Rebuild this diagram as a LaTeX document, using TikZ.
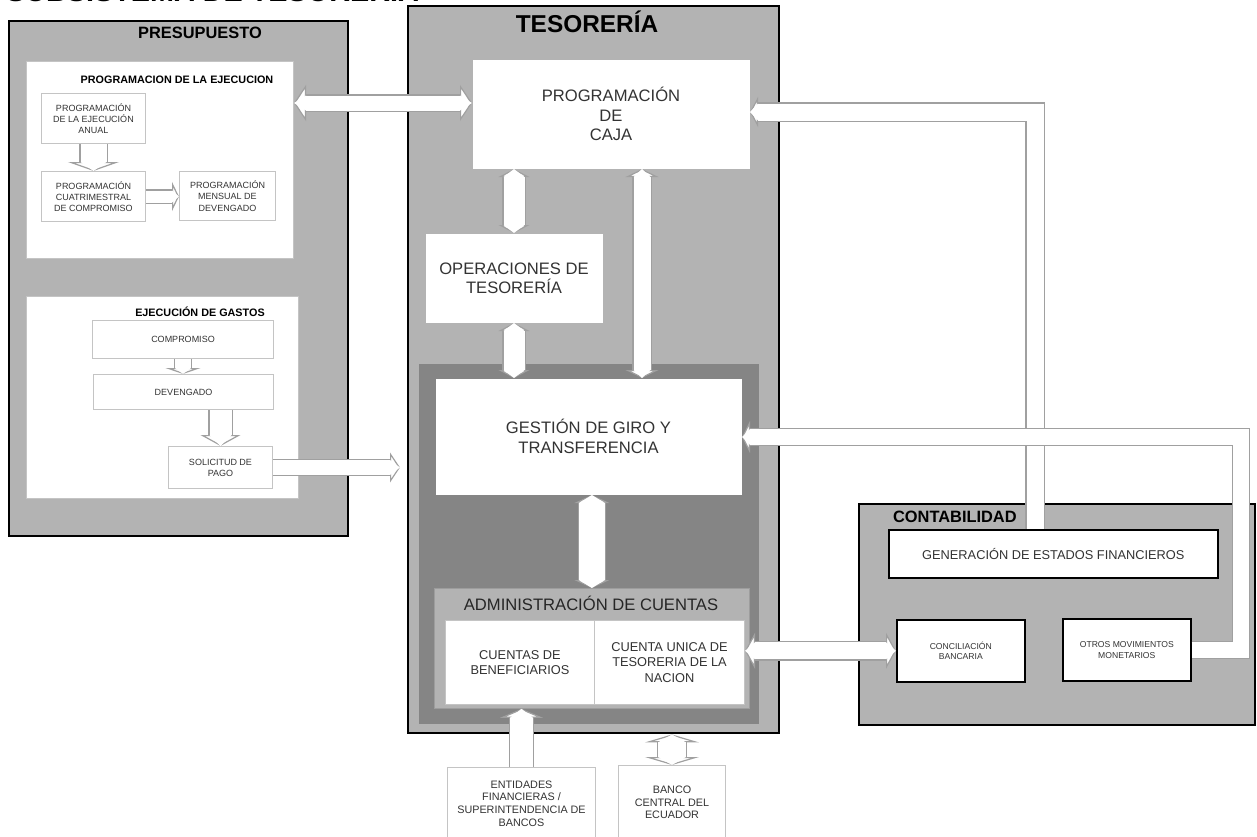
\documentclass[tikz,border=0pt]{standalone}
\usepackage{fontspec}
\setmainfont{Liberation Sans}
\usetikzlibrary{arrows.meta}

\definecolor{grisC}{HTML}{B3B3B3}
\definecolor{grisO}{HTML}{858585}
\definecolor{borde}{HTML}{A0A0A0}
\definecolor{lineaB}{HTML}{C4C4C4}
\definecolor{texto}{HTML}{333333}

% flecha de bloque: ancho, ancho punta, largo punta, puntas, camino
\newcommand{\flecha}[5]{%
  \pgfmathsetlengthmacro{\anchoB}{#1+1.2pt}%
  \draw[line width=\anchoB, draw=borde, #4,
        >={Triangle[width=#2, length=#3, line width=0.6pt, fill=white]}] #5;
  \draw[line width=#1, draw=white, #4,
        >={Triangle[width=#1, length=#3, line width=0pt]}] #5;}

\tikzset{
  tam/.style 2 args={minimum width=#1pt, minimum height=#2pt},
  marco/.style={fill=grisC, draw=black, line width=1.2pt, anchor=north west, inner sep=0pt},
  blanco/.style={fill=white, draw=lineaB, line width=0.5pt, anchor=north west,
                 inner sep=1pt, align=center, text=texto},
  negro/.style={blanco, draw=black, line width=0.8pt},
  titulo/.style={font=\bfseries\fontsize{8.2}{9}\selectfont},
  titchico/.style={font=\bfseries\fontsize{5.4}{6}\selectfont},
  chico/.style={font=\fontsize{4.5}{5.6}\selectfont},
  mini/.style={font=\fontsize{4.3}{5.4}\selectfont},
  medio/.style={font=\fontsize{5.4}{6.3}\selectfont},
  normal/.style={font=\fontsize{6.4}{7.8}\selectfont},
  grande/.style={font=\fontsize{8.3}{9.7}\selectfont},
}

\begin{document}
\begin{tikzpicture}[x=0.5pt,y=-0.5pt]
  \useasboundingbox (0,0) rectangle (1257,836);

  \node[anchor=base west, font=\bfseries\fontsize{14.4}{16}\selectfont] (titulo) at (-1,1) {SUBSISTEMA DE TESORERÍA};

  % presupuesto
  \node[marco, tam={169.5}{257.5}] (presup) at (8,20) {};
  \node[titulo] (tpres) at (200,33) {PRESUPUESTO};
  \node[blanco, tam={133.5}{98.5}] (progej) at (26,61) {};
  \node[titchico] (tprog) at (177,80) {PROGRAMACION DE LA EJECUCION};
  \node[blanco, chico, tam={52}{25}] (anual) at (41,93) {PROGRAMACIÓN\\DE LA EJECUCIÓN\\ANUAL};
  \node[blanco, chico, tam={52}{25}] (cuatri) at (41,171) {PROGRAMACIÓN\\CUATRIMESTRAL\\DE COMPROMISO};
  \node[blanco, chico, tam={48}{24.5}] (mensual) at (179,171) {PROGRAMACIÓN\\MENSUAL DE\\DEVENGADO};
  \node[blanco, tam={136}{101}] (gastos) at (26,296) {};
  \node[titchico] (tgas) at (200,312) {EJECUCIÓN DE GASTOS};
  \node[blanco, chico, tam={90.5}{19}] (comp) at (92,320) {COMPROMISO};
  \node[blanco, chico, tam={90}{17.5}] (dev) at (93,374) {DEVENGADO};
  \node[blanco, chico, tam={52}{21}] (sol) at (168,446) {SOLICITUD DE\\PAGO};

  % tesoreria
  \node[marco, tam={185.5}{363.5}] (teso) at (407,5) {};
  \node[font=\bfseries\fontsize{12.2}{13}\selectfont] (tteso) at (587,22) {TESORERÍA};
  \node[blanco, grande, draw=none, tam={138.5}{54.5}] (caja) at (472,59) {PROGRAMACIÓN\\DE\\CAJA};
  \node[blanco, grande, draw=none, tam={88.5}{44.5}] (oper) at (425,233) {OPERACIONES DE\\TESORERÍA};
  \node[fill=grisO, draw=grisC, line width=0.4pt, anchor=north west, tam={170.5}{180.5}] (giro) at (418,363) {};
  \node[blanco, grande, draw=none, tam={153}{58}] (gestion) at (435,378) {GESTIÓN DE GIRO Y\\TRANSFERENCIA};
  \node[fill=grisC, draw=grisO!80, line width=0.4pt, anchor=north west, tam={157.5}{60}] (admin) at (434,588) {};
  \node[grande, text=black!85] (tadmin) at (591,603) {ADMINISTRACIÓN DE CUENTAS};
  \node[blanco, normal, tam={74.5}{42}] (benef) at (445,620) {CUENTAS DE\\BENEFICIARIOS};
  \node[blanco, normal, tam={75}{42}] (unica) at (594,620) {CUENTA UNICA DE\\TESORERIA DE LA\\NACION};
  \node[blanco, medio, tam={74}{36}] (ent) at (447,767) {ENTIDADES\\FINANCIERAS /\\SUPERINTENDENCIA DE\\BANCOS};
  \node[blanco, medio, tam={53.5}{37}] (banco) at (618,765) {BANCO\\CENTRAL DEL\\ECUADOR};

  % contabilidad
  \node[marco, tam={198}{110.5}] (conta) at (858,503) {};
  \node[titulo, anchor=west] (tconta) at (886,517) {CONTABILIDAD};
  \node[negro, normal, tam={164.5}{24}] (gen) at (888,529) {GENERACIÓN DE ESTADOS FINANCIEROS};
  \node[negro, mini, tam={64}{31}] (conc) at (896,619) {CONCILIACIÓN\\BANCARIA};
  \node[negro, mini, tam={64}{31}] (otros) at (1062,618) {OTROS MOVIMIENTOS\\MONETARIOS};

  \coordinate (pc) at ([yshift=5.5pt]caja.west);
  \coordinate (xcg) at (642,0);
  \coordinate (rc1) at (1035,112);
  \coordinate (rc2) at (1241,437);
  \coordinate (psol) at (sol.east -| teso.west);

  \flecha{13pt}{25.5pt}{4.5pt}{->}{(anual.south) -- (cuatri.north)}
  \flecha{6pt}{14.5pt}{3.5pt}{->}{(cuatri.east) -- (cuatri.east -| mensual.west)}
  \flecha{8pt}{17.5pt}{3pt}{->}{(comp.south) -- (comp.south |- dev.north)}
  \flecha{11pt}{20pt}{5.5pt}{->}{(sol.north |- dev.south) -- (sol.north)}
  \flecha{7.5pt}{15pt}{5pt}{->}{(sol.east) -- ([xshift=-3.5pt]psol)}
  \flecha{7.5pt}{18pt}{6pt}{<->}{(progej.east |- pc) -- (pc)}
  \flecha{10.5pt}{15.5pt}{4pt}{<->}{(caja.south -| oper.north) -- (oper.north)}
  \flecha{10.5pt}{15.5pt}{4pt}{<->}{(oper.south) -- (oper.south |- gestion.north)}
  \flecha{8.5pt}{16.5pt}{4pt}{<->}{(caja.south -| xcg) -- (gestion.north -| xcg)}
  \flecha{13pt}{17.5pt}{4pt}{<->}{(gestion.south -| admin.north) -- (admin.north)}
  \flecha{8.5pt}{18pt}{5pt}{<->}{(unica.east |- conc.west) -- (conc.west)}
  \flecha{11.5pt}{21.5pt}{4.5pt}{->}{(ent.north) -- (ent.north |- admin.south)}
  \flecha{14pt}{27pt}{4pt}{<->}{(banco.north) -- (banco.north |- teso.south)}
  \flecha{8.5pt}{15pt}{4pt}{->}{(gen.north -| rc1) -- (rc1) -- (caja.east |- rc1)}
  \flecha{8pt}{16pt}{4pt}{->}{(otros.east) -- (otros.east -| rc2) -- (rc2) -- (gestion.east |- rc2)}
\end{tikzpicture}
\end{document}
